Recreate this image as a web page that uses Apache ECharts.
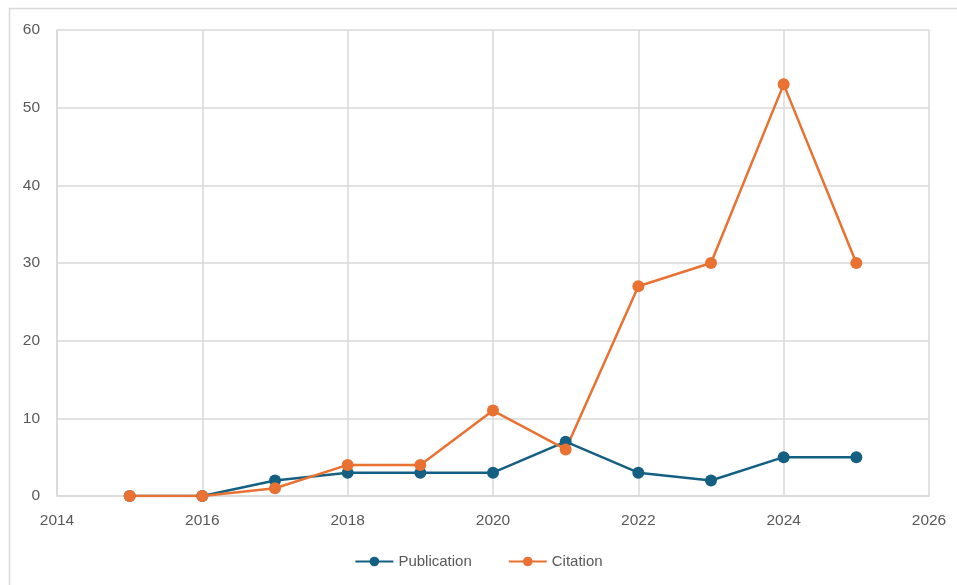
<!DOCTYPE html>
<html><head><meta charset="utf-8">
<script src="https://cdn.jsdelivr.net/npm/echarts@6/dist/echarts.min.js"></script>
<style>html,body{margin:0;padding:0;background:#fff}#c{width:957px;height:585px}</style>
</head><body><div id="c"></div>
<script>
const years = [2015, 2016, 2017, 2018, 2019, 2020, 2021, 2022, 2023, 2024, 2025];
const publication = [0, 0, 2, 3, 3, 3, 7, 3, 2, 5, 5];
const citation = [0, 0, 1, 4, 4, 11, 6, 27, 30, 53, 30];
const seriesNames = ['Publication', 'Citation'];

const chart = echarts.init(document.getElementById('c'), null, {renderer: 'canvas'});
const font = 'Liberation Sans, Arial, sans-serif';
chart.setOption({
  animation: false,
  graphic: [{type: 'rect', left: 7, top: 6, shape: {width: 1000, height: 700}, style: {fill: 'none', stroke: '#d9d9d9', lineWidth: 1.5}, z: -1}],
  grid: {left: 57, right: 28, top: 30, bottom: 89, containLabel: false},
  legend: {
    bottom: 11, left: 'center', itemWidth: 38, itemHeight: 12, itemGap: 36,
    data: seriesNames,
    textStyle: {color: '#595959', fontSize: 15, fontFamily: font}
  },
  xAxis: {
    type: 'value', min: 2014, max: 2026, interval: 2,
    axisLine: {show: true, lineStyle: {color: '#d9d9d9', width: 1.5}},
    axisTick: {show: false},
    splitLine: {show: true, lineStyle: {color: '#d9d9d9', width: 1.5}},
    axisLabel: {color: '#595959', fontSize: 15.5, fontFamily: font, margin: 17, formatter: v => String(v)}
  },
  yAxis: {
    type: 'value', min: 0, max: 60, interval: 10,
    axisLine: {show: true, lineStyle: {color: '#d9d9d9', width: 1.5}},
    axisTick: {show: false},
    splitLine: {show: true, lineStyle: {color: '#d9d9d9', width: 1.5}},
    axisLabel: {color: '#595959', fontSize: 15.5, fontFamily: font, margin: 17}
  },
  series: [
    {name: seriesNames[0], type: 'line', data: years.map((y, i) => [y, publication[i]]),
     color: '#156082', symbol: 'circle', symbolSize: 12, lineStyle: {width: 2.5}},
    {name: seriesNames[1], type: 'line', data: years.map((y, i) => [y, citation[i]]),
     color: '#E97132', symbol: 'circle', symbolSize: 12, lineStyle: {width: 2.5}}
  ]
});
</script></body></html>
